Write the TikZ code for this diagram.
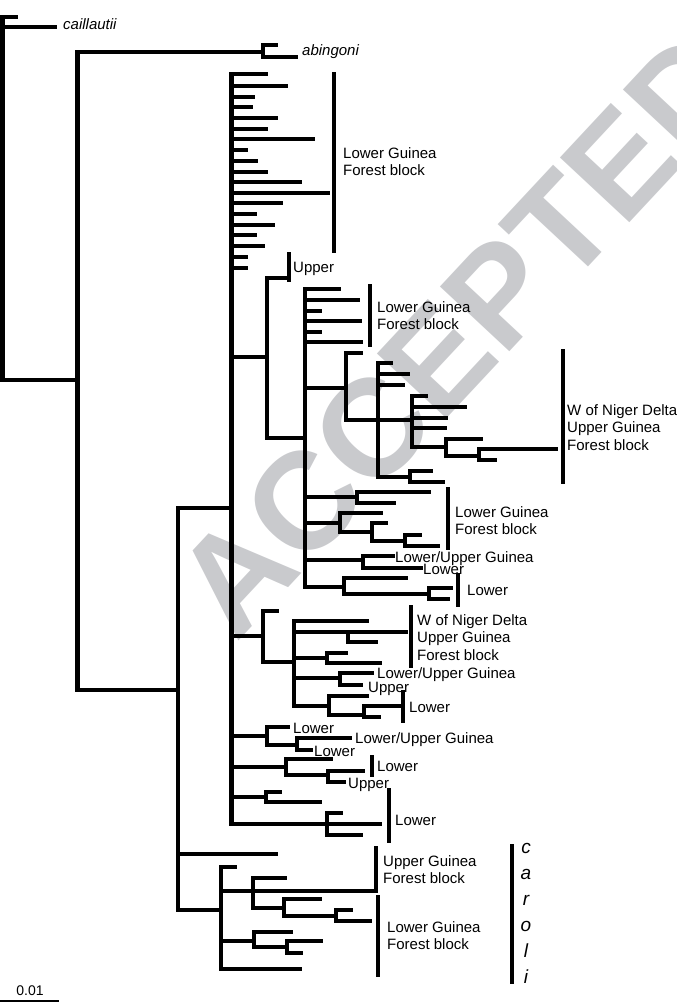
\documentclass[tikz,border=0pt]{standalone}
\usepackage{fontspec}
\setmainfont{Liberation Sans}
\definecolor{wmgray}{RGB}{201,202,205}
% one internal node: vertical at x, then its branches y/end
\newcommand{\cladeat}[4]{%
  \draw[nd] (#1,#2) -- (#1,#3);
  \foreach \ty/\tx in {#4} \draw[br] (#1,\ty) -- (\tx,\ty);}
\begin{document}
\begin{tikzpicture}[x=1pt, y=-1pt,
  br/.style={line width=4.6pt},
  nd/.style={line width=4.6pt, line cap=rect},
  bar/.style={line width=3.8pt},
  lab/.style={anchor=base west, inner sep=0pt, align=left, font=\fontsize{15}{17.5}\selectfont},
  sp/.style={lab, font=\fontsize{15}{17.5}\selectfont\itshape}]
  \useasboundingbox (0,0) rectangle (677,1004);
  % watermark
  \node[text=wmgray, font=\fontsize{138}{138}\selectfont\bfseries, rotate=47] (wm) at (461,334) {ACCEPTED};
  % outgroups
  \cladeat{2.5}{17}{380}{17/18, 27/57}
  \draw[br] (0,380) -- (77.5,380);
  \cladeat{77.5}{52}{690}{52/263, 690/178}
  \cladeat{263}{45}{57}{45/278, 57/298}
  \node[sp] (cai) at (63,29) {caillautii};
  \node[sp] (abi) at (302,55) {abingoni};
  % main clade
  \cladeat{178}{508}{910}{508/231.5, 854/278, 910/221}
  \cladeat{231.5}{74}{824}{74/268, 86/288, 97/255, 107/253, 118/278, 129/268, 139/315, 150/248,
    161/258, 172/268, 182/302, 193/330, 203/283, 214/257, 225/275, 235/257, 246/265, 257/248,
    268/248, 357/267, 636/263, 736/267, 767/286, 797/266, 824/327}
  \cladeat{267}{278}{438}{278/288, 438/305}
  \cladeat{305}{289}{587}{289/341, 300/360, 311/322, 321/362, 332/322, 342/363, 388/346,
    497/357, 523/340, 560/363, 587/344}
  \cladeat{346}{353}{420}{353/363, 420/378}
  \cladeat{378}{363}{477}{363/393, 374/410, 385/405, 420/412, 477/410}
  \cladeat{412}{396}{447}{396/428, 407/467, 418/448, 428/447, 447/446}
  \cladeat{446}{439}{456}{439/483, 456/479}
  \cladeat{479}{449}{460}{449/558, 460/497}
  \cladeat{410}{471}{482}{471/433, 482/445}
  \cladeat{357}{492}{503}{492/431, 503/396}
  \cladeat{340}{513}{532}{513/383, 532/372}
  \cladeat{372}{523}{541}{523/388, 541/405}
  \cladeat{405}{535}{546}{535/422, 546/440}
  \cladeat{363}{556}{568}{556/395, 568/423}
  \cladeat{344}{578}{594}{578/408, 594/429}
  \cladeat{429}{588}{599}{588/453, 599/450}
  \cladeat{263}{611}{662}{611/279, 662/294}
  \cladeat{294}{621}{706}{621/369, 632/348, 658/327, 678/340, 706/329}
  \cladeat{348}{632}{642}{632/408, 642/378}
  \cladeat{327}{653}{663}{653/348, 663/382}
  \cladeat{340}{673}{685}{673/374, 685/363}
  \cladeat{329}{696}{715}{696/369, 715/364}
  \cladeat{364}{706}{717}{706/402, 717/381}
  \cladeat{267}{727}{745}{727/290, 745/297}
  \cladeat{297}{738}{750}{738/352, 750/313}
  \cladeat{286}{759}{775}{759/333, 775/328}
  \cladeat{328}{771}{782}{771/365, 782/346}
  \cladeat{266}{792}{802}{792/282, 802/322}
  \cladeat{327}{813}{835}{813/343, 824/382, 835/363}
  % caroli clade
  \cladeat{221}{867}{969}{867/237, 891/253, 941/254, 969/302}
  \cladeat{253}{878}{908}{878/287, 891/374, 908/284}
  \cladeat{284}{899}{916}{899/322, 916/336}
  \cladeat{336}{910}{921}{910/353, 921/372}
  \cladeat{254}{932}{947}{932/293, 947/287}
  \cladeat{287}{941}{953}{941/323, 953/303}
  % region bars
  \foreach \bx/\ba/\bb in {334/72/253, 288.7/252/282, 370/284/347, 563/349/484, 448/487/550,
    458/573/607, 411/605/668, 403/690/723, 372/755/777, 389/788/843, 376/846/893,
    378/895/977, 512/844/984}
    \draw[bar] (\bx,\ba) -- (\bx,\bb);
  % region labels (base = last line)
  \node[lab] (lg1) at (343,175.5) {Lower Guinea\\Forest block};
  \node[lab] (up1) at (293,272) {Upper};
  \node[lab] (lg2) at (377,329.5) {Lower Guinea\\Forest block};
  \node[lab] (wn1) at (567,450) {W of Niger Delta\\Upper Guinea\\Forest block};
  \node[lab] (lg3) at (455,534.5) {Lower Guinea\\Forest block};
  \node[lab] (lu1) at (395,562) {Lower/Upper Guinea};
  \node[lab] (lo1) at (423,574) {Lower};
  \node[lab] (lo2) at (467,595) {Lower};
  \node[lab] (wn2) at (417,660) {W of Niger Delta\\Upper Guinea\\Forest block};
  \node[lab] (lu2) at (377,678) {Lower/Upper Guinea};
  \node[lab] (up2) at (368,692) {Upper};
  \node[lab] (lo3) at (409,712) {Lower};
  \node[lab] (lo4) at (293,733) {Lower};
  \node[lab] (lu3) at (355,743) {Lower/Upper Guinea};
  \node[lab] (lo5) at (314,756) {Lower};
  \node[lab] (lo6) at (377,771) {Lower};
  \node[lab] (up3) at (348,788) {Upper};
  \node[lab] (lo7) at (395,825) {Lower};
  \node[lab] (ug1) at (383,883.5) {Upper Guinea\\Forest block};
  \node[lab] (lg4) at (387,949.5) {Lower Guinea\\Forest block};
  \foreach \l [count=\i from 0] in {c,a,r,o,l,i}
    \node[anchor=base, inner sep=0pt, font=\fontsize{19}{19}\selectfont\itshape] (car\i) at (526,853+26*\i) {\l};
  % scale bar
  \coordinate (sb0) at (0,1001);
  \coordinate (sb1) at (59,1001);
  \draw[line width=2.2pt] (sb0) -- (sb1);
  \node[anchor=base, inner sep=0pt, font=\fontsize{14}{14}\selectfont] (sbl) at (30,995) {0.01};
\end{tikzpicture}
\end{document}
